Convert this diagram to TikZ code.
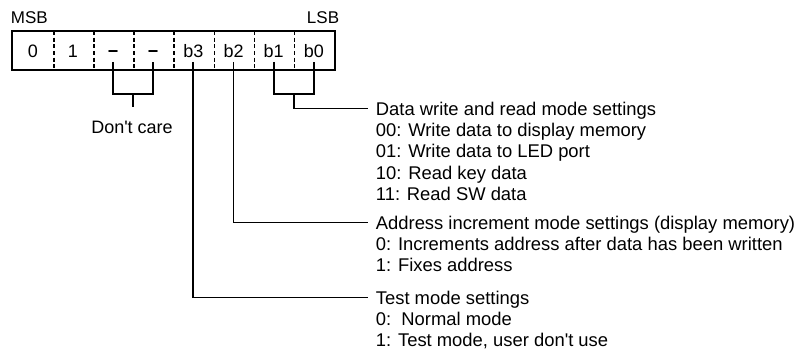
\documentclass[tikz,border=0pt]{standalone}
\usepackage{fontspec}
\setmainfont{Liberation Sans}[Ligatures=TeXOff]
\begin{document}
\begin{tikzpicture}[x=1pt,y=-1pt,line width=1.8pt,
  cell/.style={minimum width=40.15pt,minimum height=37pt,inner sep=0pt,text height=13pt,text depth=0pt,font=\fontsize{18}{21}\selectfont},
  lbl/.style={inner sep=0pt,font=\fontsize{18}{21}\selectfont},
  edge/.style={inner sep=0pt,font=\fontsize{17}{20}\selectfont},
  desc/.style={anchor=west,inner xsep=7pt,inner ysep=0pt,text height=13.2pt,text depth=0pt,font=\fontsize{18.4}{21.3}\selectfont},
  divider/.style={line width=1.5pt,dash pattern=on 4pt off 2.6pt},
  conn/.style={line width=1.8pt}]
\useasboundingbox (0,0) rectangle (797,354);
% cells
\node[cell] (c0) at (32.78,50.5) {0};
\node[cell] (c1) at (72.93,50.5) {1};
\node[cell] (c2) at (113.08,50.5) {\bfseries −};
\node[cell] (c3) at (153.23,50.5) {\bfseries −};
\node[cell] (c4) at (193.38,50.5) {b3};
\node[cell] (c5) at (233.53,50.5) {b2};
\node[cell] (c6) at (273.68,50.5) {b1};
\node[cell] (c7) at (313.83,50.5) {b0};
\draw (c0.north west) rectangle (c7.south east);
\foreach \i in {0,...,6}{\draw[divider] (c\i.north east) -- (c\i.south east);}
% MSB / LSB
\node[edge,anchor=base west] (msb) at (10,23) {MSB};
\node[edge,anchor=base east] (lsb) at (340,23) {LSB};
% don't care bracket
\coordinate (dcm) at (133.15,94);
\node[lbl,anchor=base] (dcl) at (132,133) {Don't care};
\draw[conn] ([yshift=8pt]c2.south) -- (c2.south |- dcm) -- (c3.south |- dcm) -- ([yshift=8pt]c3.south);
\draw[conn] (dcm) -- (dcm |- 0,107);
% descriptions
\node[desc] (d1) at (368,108.5) {Data write and read mode settings};
\node[desc] (d1a) at (368,129.8) {00: Write data to display memory};
\node[desc] (d1b) at (368,151.1) {01: Write data to LED port};
\node[desc] (d1c) at (368,172.4) {10: Read key data};
\node[desc] (d1d) at (368,193.7) {11: Read SW data};
\node[desc] (d2) at (368,222.5) {Address increment mode settings (display memory)};
\node[desc] (d2a) at (368,243.8) {0: Increments address after data has been written};
\node[desc] (d2b) at (368,265.1) {1: Fixes address};
\node[desc] (d3) at (368,297.5) {Test mode settings};
\node[desc] (d3a) at (368,318.8) {0:\ \ Normal mode};
\node[desc] (d3b) at (368,340.1) {1: Test mode, user don't use};
% b1 b0 bracket
\coordinate (bm) at (293.75,94);
\draw[conn] ([yshift=8pt]c6.south) -- (c6.south |- bm) -- (c7.south |- bm) -- ([yshift=8pt]c7.south);
\draw[conn] (bm) |- (d1.west);
% b2, b3
\draw[conn] ([yshift=8pt]c5.south) |- (d2.west);
\draw[conn] ([yshift=8pt]c4.south) |- (d3.west);
\end{tikzpicture}
\end{document}
